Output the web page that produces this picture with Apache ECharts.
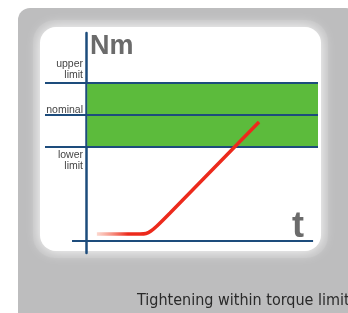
<!DOCTYPE html>
<html>
<head>
<meta charset="utf-8">
<script src="https://cdn.jsdelivr.net/npm/echarts@6/dist/echarts.min.js"></script>
<style>
  html, body { margin: 0; padding: 0; background: #fff; }
  #main { width: 348px; height: 313px; }
</style>
</head>
<body>
<div id="main"></div>
<script>
// 扭矩曲线 (t, Nm)
var curveData = [[4, 3.5], [12, 3.5], [19.8, 3.5], [22, 3.75], [23.8, 5], [26, 7.5], [30.8, 14], [63.4, 59.5]];
// 限值
var lowerLimit = 47;
var nominal = 63;
var upperLimit = 79;
// 左侧标签
var labelValues = [40, 65.5, 85.5];
var labelTexts = ['lower\nlimit', 'nominal', 'upper\nlimit'];

var myChart = echarts.init(document.getElementById('main'));

var blue = '#1d4c7c';
var lineStyleBlue = { color: blue, width: 2, type: 'solid' };

var option = {
  animation: false,
  backgroundColor: '#fff',
  // 背景面板
  graphic: [
    { type: 'rect', z: -20, shape: { x: 18, y: 8, width: 340, height: 320, r: 12 }, style: { fill: '#bdbdbe' } },
    { type: 'rect', z: -19, shape: { x: 33, y: 20, width: 295, height: 238, r: 22 }, style: { fill: '#c3c3c4' } },
    { type: 'rect', z: -18, shape: { x: 40, y: 27, width: 281, height: 224, r: 16 },
      style: { fill: '#fff', shadowBlur: 14, shadowColor: '#fff' } },
    { type: 'text', z: 100, left: 90, top: 33,
      style: { text: 'Nm', fill: '#6b6b6b', font: 'bold 27px "Liberation Sans", Arial, sans-serif' } },
    { type: 'text', z: 100, left: 292, top: 209,
      style: { text: 't', fill: '#6b6b6b', font: 'bold 36px "Liberation Sans", Arial, sans-serif' } },
    { type: 'text', z: 100, left: 137, top: 293,
      style: { text: 'Tightening within torque limits', fill: '#2a2a2a',
        font: '16px "Liberation Sans Narrow", "DejaVu Sans Condensed", "Liberation Sans", sans-serif' } }
  ],
  grid: { left: 45, right: 30, top: 33, bottom: 60 },
  xAxis: {
    type: 'value', min: -15, max: 85, show: false
  },
  yAxis: {
    type: 'value', min: -6, max: 104,
    axisLine: { show: true, onZero: true, lineStyle: { color: blue, width: 2.5 } },
    axisTick: { show: false },
    splitLine: { show: false },
    axisLabel: {
      customValues: labelValues,
      margin: -38,
      color: '#444',
      fontSize: 10.5,
      lineHeight: 11,
      fontFamily: '"Liberation Sans", Arial, sans-serif',
      formatter: function (v) {
        var i = labelValues.indexOf(v);
        return i >= 0 ? labelTexts[i] : '';
      }
    }
  },
  series: [{
    type: 'line',
    data: curveData,
    smooth: 0.2,
    showSymbol: false,
    symbol: 'none',
    z: 5,
    lineStyle: {
      width: 3.5,
      color: new echarts.graphic.LinearGradient(0, 0, 1, 0, [
        { offset: 0, color: 'rgba(245,130,100,0.25)' },
        { offset: 0.2, color: '#ec2a1c' },
        { offset: 1, color: '#ec2a1c' }
      ])
    },
    markArea: {
      silent: true,
      itemStyle: { color: '#5cbb3c', opacity: 1 },
      data: [[{ coord: [0.5, lowerLimit] }, { coord: [85, upperLimit] }]]
    },
    markLine: {
      silent: true,
      symbol: 'none',
      label: { show: false },
      lineStyle: lineStyleBlue,
      data: [
        [{ coord: [-15, upperLimit] }, { coord: [85, upperLimit] }],
        [{ coord: [-15, nominal] }, { coord: [85, nominal] }],
        [{ coord: [-15, lowerLimit] }, { coord: [85, lowerLimit] }],
        [{ coord: [-5.1, 0] }, { coord: [83.2, 0] }]
      ]
    }
  }]
};

myChart.setOption(option);
</script>
</body>
</html>
